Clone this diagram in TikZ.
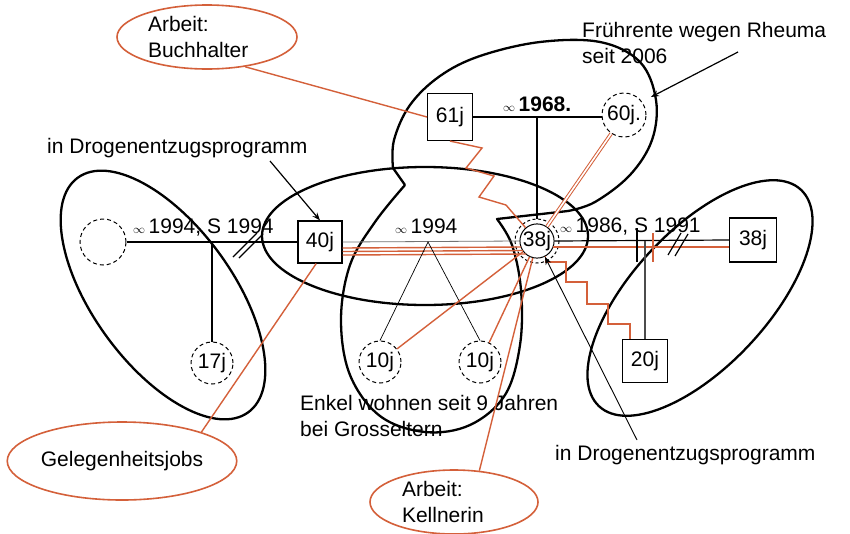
\documentclass[tikz,border=0pt]{standalone}
\usepackage{fontspec}
\setmainfont{Liberation Sans}
\usetikzlibrary{shapes.geometric,arrows.meta,calc}
\definecolor{rd}{RGB}{212,96,58}
\begin{document}
\begin{tikzpicture}[x=1pt,y=-1pt,
  every node/.style={font=\fontsize{21}{26}\selectfont, inner sep=0pt},
  pbox/.style={draw, line width=1.1pt, minimum width=45pt, minimum height=45pt},
  pcirc/.style={circle, draw, line width=1pt, dash pattern=on 4pt off 3pt, minimum size=44pt},
  hull/.style={line width=2.3pt, line join=round},
  conn/.style={line width=1.2pt},
  thinc/.style={line width=0.7pt},
  rline/.style={draw=rd, line width=1.4pt},
  rell/.style={ellipse, draw=rd, line width=1.6pt, align=left},
  tip/.style={-{Stealth[length=8pt,width=6pt]}},
  mark/.style={font=\fontsize{13}{13}\selectfont}
]
\fill[white] (0,0) rectangle (850,533);
\useasboundingbox (0,0) rectangle (850,533);

% ---------- hulls ----------
\draw[hull, rotate around={-54:(163,295)}] (163,295) ellipse[x radius=145, y radius=70];
\draw[hull] (425,236) ellipse[x radius=163, y radius=69];
\draw[hull, rotate around={47:(700,298)}] (700,298) ellipse[x radius=148, y radius=68];
\draw[hull] (405,185) -- (393,168)
  -- plot[smooth, tension=0.6] coordinates {(393,168) (394,140) (410,105) (440,76) (480,56) (540,42) (600,42) (640,62) (656,100) (652,140) (630,175) (595,202) (568,211)}
  -- (497,219)
  -- plot[smooth, tension=0.6] coordinates {(497,219) (512,245) (521,290) (520,345) (505,395) (470,425) (425,432) (380,416) (350,375) (341,320) (350,265) (375,222) (405,185)};

% ---------- persons ----------
\node[pbox, minimum height=47pt] (b61) at (450,117) {61j};
\node[pcirc] (c60) at (624,115) {60j.};
\node[circle, draw, line width=1pt, minimum size=34pt] (c38) at (537,241) {38j};
\draw[dash pattern=on 3pt off 2.5pt, line width=1pt] (c38.center) circle[radius=22];
\node[pbox, minimum width=44pt, minimum height=42pt] (b40) at (320,242) {40j};
\node[pcirc, minimum size=46pt] (cl) at (103,242) {};
\node[pcirc, minimum size=42pt] (c17) at (212,363) {17j};
\node[pcirc, minimum size=42pt] (c10a) at (380,362) {10j};
\node[pcirc, minimum size=42pt] (c10b) at (480,362) {10j};
\node[pbox, minimum width=47pt, minimum height=44pt] (b38r) at (753,240) {38j};
\node[pbox, minimum height=43pt] (b20) at (645,361) {20j};

% ---------- red note ellipses ----------
\node[rell, text width=118pt, minimum width=180pt, minimum height=64pt] (buch) at (207,37) {Arbeit:\\Buchhalter};
\node[rell, minimum width=212pt, minimum height=78pt] (gel) at (122,461) {Gelegenheitsjobs};
\node[rell, text width=104pt, minimum width=168pt, minimum height=64pt] (kel) at (454,502) {Arbeit:\\Kellnerin};

% ---------- texts ----------
\node[anchor=base west] (tdrog1) at (47,153) {in Drogenentzugsprogramm};
\node[anchor=base west] (tdrog2) at (555,460) {in Drogenentzugsprogramm};
\node[anchor=north west, align=left] (tfr) at (582,22) {Frührente wegen Rheuma\\seit 2006};
\node[anchor=north west, align=left] (tenk) at (300,395) {Enkel wohnen seit 9 Jahren\\bei Grosseltern};
\node[anchor=base west] (m94l) at (133,233) {{\fontsize{13}{13}\selectfont$\infty$}\,1994, S 1994};
\node[anchor=base west] (m94) at (395,233) {{\fontsize{13}{13}\selectfont$\infty$}\,1994};
\node[anchor=base west] (m68) at (503,111) {{\fontsize{13}{13}\selectfont$\infty$}\,\textbf{1968.}};
\node[anchor=base west] (m86) at (560,232) {{\fontsize{13}{13}\selectfont$\infty$}\,1986, S 1991};

% ---------- family lines ----------
\draw[conn] (cl.east) -- (b40.west |- cl.east);
\draw[conn] (c17.north |- cl.east) -- (c17.north);
\draw[conn] (233,257) -- (257,233) (239,258) -- (263,234);

\draw[conn] (b61.east) -- (b61.east -| c60.west);
\coordinate (k68) at (537,117);
\draw[conn] (k68) -- ($(c38.center)+(0,-22)$);

\draw[line width=0.8pt, black!55] (b40.east) -- (c38.west);
\draw[rline] ($(b40.east)+(0,6)$) -- ($(c38.center)+(-16,6)$);
\draw[rline] ($(b40.east)+(0,9.5)$) -- ($(c38.center)+(-14,9.5)$);
\draw[rline] ($(b40.east)+(0,13)$) -- ($(c38.center)+(-11,13)$);

\coordinate (k94) at (428,242);
\draw[thinc] (c10a.north) -- (k94) -- (c10b.north);

\draw[conn] (c38.east) -- (b38r.west);
\draw[rline] ($(c38.center)+(16,6)$) -- ($(b38r.west)+(0,7)$);
\draw[conn, black!70] (b20.north |- c38.east) -- (b20.north);
\draw[conn] (637,228) -- (637,262);
\draw[rline] (653,233) -- (653,262);
\draw[conn] (668,255) -- (681,233) (675,256) -- (688,234);

% ---------- red relations ----------
\draw[rd, line width=1pt, double=white, double distance=1.6pt] (c60) -- (c38);
\draw[rline] (b61.south) -- (482,148) -- (466,168) -- (494,176) -- (479,197) -- (506,205) -- (c38);
\draw[rline] (c38.-60) |- (566,262) -- (566,282) -- (587,282) -- (587,304) -- (608,304) -- (608,324) -- (630,324) -- (630,324 |- b20.north);
\draw[rline] (c38) -- (c10a);
\draw[rline] (c38) -- (c10b);
\draw[rline] (c38) -- (kel.51);
\draw[rline] (buch.-38) -- (b61.west);
\draw[rline] (gel.20) -- (b40.-100);

% ---------- annotation arrows ----------
\coordinate (a1) at (270,161);
\draw[conn, tip] (a1) -- (b40.north);
\coordinate (a2) at (738,52);
\coordinate (a2e) at (651,97);
\draw[conn, tip] (a2) -- (a2e);
\coordinate (a3) at (637,440);
\draw[line width=0.9pt, tip] (a3) -- (c38);
\end{tikzpicture}
\end{document}
